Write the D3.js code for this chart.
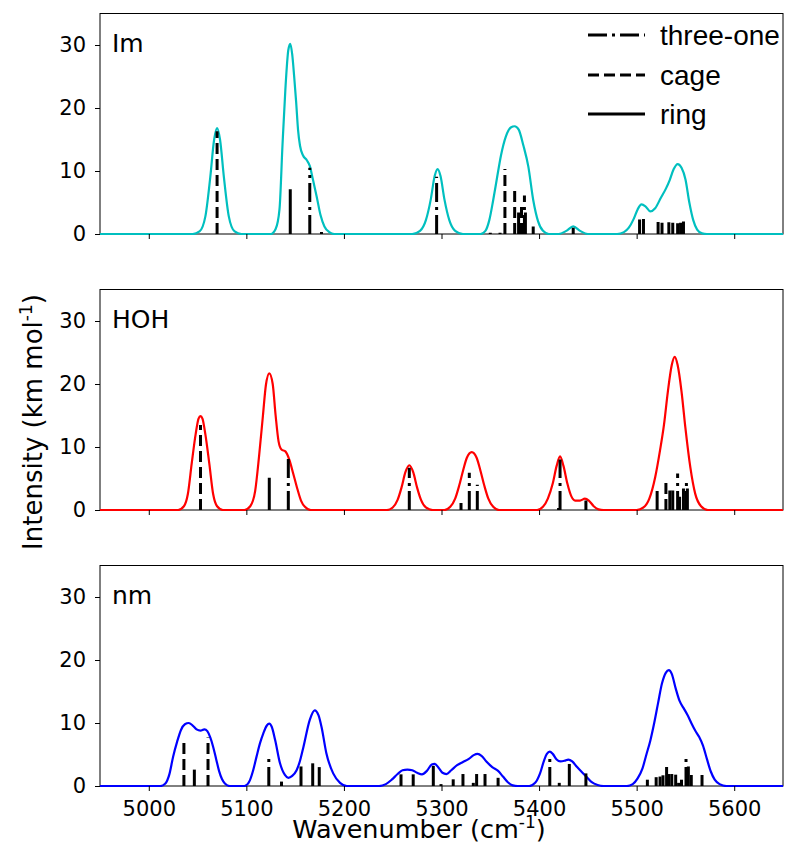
<!DOCTYPE html>
<html>
<head>
<meta charset="utf-8">
<script src="https://cdn.jsdelivr.net/npm/d3@7"></script>
<style>
  html, body { margin: 0; padding: 0; background: #fff; }
  text { font-family: "DejaVu Sans", sans-serif; fill: #000; }
  .legend text { font-family: "Liberation Sans", Arial, sans-serif; }
</style>
</head>
<body>
<div id="chart"></div>
<script>
// ---- data ----
const panelNames = ['Im', 'HOH', 'nm'];
const panelColors = ['#00bfbf', '#ff0000', '#0000ff'];
const xTicks = [5000, 5100, 5200, 5300, 5400, 5500, 5600];
const yTicks = [0, 10, 20, 30];
const legendLabels = ['three-one', 'cage', 'ring'];

// broadened spectra: [wavenumber, intensity]
const imCurve = [
  [4950, 0], [5045, 0], [5052, 0.4], [5058, 2.8], [5063, 9], [5067, 15], [5070, 16.8], [5073, 15],
  [5077, 9], [5082, 2.8], [5088, 0.4], [5095, 0],
  [5125, 0], [5130, 0.8], [5134, 4], [5137, 14], [5140, 23], [5143, 29.2], [5145, 30.2], [5147, 28.5],
  [5149, 25], [5151, 21], [5153, 16.5], [5155, 14], [5158, 12.5], [5162, 11.7], [5165, 10.8],
  [5168, 8.8], [5172, 6], [5176, 3], [5180, 1.2], [5185, 0.3], [5190, 0],
  [5270, 0], [5278, 0.5], [5284, 2.2], [5289, 5.5], [5293, 9.2], [5296, 10.3], [5299, 9.2],
  [5303, 5.5], [5308, 2.2], [5314, 0.5], [5322, 0],
  [5340, 0], [5345, 0.5], [5349, 2.2], [5353, 5.4], [5357, 9], [5361, 12.5], [5366, 15.5], [5371, 16.9],
  [5375, 17.1], [5379, 16.6], [5384, 14], [5389, 10.7], [5394, 5.4], [5399, 2], [5404, 0.5], [5410, 0],
  [5420, 0], [5428, 0.5], [5435, 1.2], [5442, 0.5], [5450, 0],
  [5480, 0], [5487, 0.3], [5492, 1], [5497, 2.4], [5501, 3.9], [5505, 4.7], [5509, 4.4], [5514, 3.6],
  [5519, 4.1], [5525, 5.8], [5530, 7.2], [5534, 8.6], [5538, 10.3], [5542, 11.1], [5546, 10.5],
  [5550, 8.7], [5554, 5], [5558, 2.2], [5562, 0.7], [5567, 0.1], [5572, 0], [5650, 0]
];
const hohCurve = [
  [4950, 0], [5030, 0], [5036, 0.6], [5040, 2.5], [5044, 7.4], [5048, 12], [5051, 14.5], [5053, 14.9],
  [5055, 14.5], [5058, 12], [5062, 7.4], [5066, 2.5], [5070, 0.6], [5076, 0],
  [5098, 0], [5104, 0.6], [5109, 3], [5113, 8.5], [5117, 15], [5120, 19.8], [5123.5, 21.7], [5127, 20],
  [5130, 15], [5133, 10.9], [5136, 9.6], [5140, 9.3], [5144, 8], [5148, 5.8], [5152, 3.5], [5156, 1.5],
  [5160, 0.5], [5166, 0],
  [5244, 0], [5250, 0.4], [5255, 1.6], [5259, 3.55], [5263, 6], [5267, 7.1], [5271, 6], [5275, 3.55],
  [5279, 1.6], [5284, 0.4], [5291, 0],
  [5303, 0], [5309, 0.5], [5314, 1.8], [5318, 3.8], [5322, 6.2], [5326, 8.3], [5331, 9.2], [5336, 8.3],
  [5340, 6.2], [5344, 3.8], [5348, 1.8], [5353, 0.5], [5359, 0],
  [5398, 0], [5404, 0.5], [5409, 1.8], [5414, 4.2], [5418, 7], [5421.5, 8.5], [5425, 7], [5429, 4.2],
  [5433, 2.2], [5437, 1.5], [5442, 1.5], [5447, 1.8], [5451, 1.5], [5456, 0.6], [5461, 0.1], [5466, 0],
  [5500, 0], [5507, 0.4], [5513, 1.8], [5519, 5.2], [5524, 9.5], [5528, 13.5], [5532, 18.8], [5536, 23],
  [5539, 24.3], [5542, 23], [5546, 18.8], [5550, 13], [5555, 6.8], [5560, 2.6], [5566, 0.6], [5573, 0],
  [5650, 0]
];
const nmCurve = [
  [4950, 0], [5012, 0], [5017, 0.4], [5021, 1.8], [5025, 4.7], [5029, 7], [5033, 8.9], [5037, 9.8],
  [5041, 10], [5045, 9.6], [5049, 9], [5053, 8.8], [5057, 9.0], [5060, 8.7], [5063, 7.7], [5066, 6.2],
  [5069, 4.3], [5072, 2.4], [5075, 1.1], [5078, 0.4], [5083, 0],
  [5098, 0], [5103, 0.7], [5107, 2.5], [5110.5, 4.7], [5114, 6.8], [5117.5, 8.4], [5121, 9.6],
  [5123.5, 9.9], [5126, 9.4], [5129.5, 7.3], [5134.5, 3.6], [5139.5, 1.75], [5143, 1.3], [5147, 1.6],
  [5151.5, 2.5], [5155, 4], [5158.5, 6.2], [5165, 10.5], [5170, 12.0], [5174, 11.2], [5177, 9.4],
  [5182, 5.2], [5189, 2.0], [5196, 0.5], [5203, 0],
  [5236, 0], [5243, 0.3], [5249, 1.0], [5255, 1.9], [5260, 2.5], [5265, 2.6], [5270, 2.5], [5275, 2.1],
  [5280, 1.85], [5285, 2.4], [5290, 3.4], [5293, 3.5], [5297, 2.9], [5301, 2.1], [5305, 1.9], [5310, 2.5],
  [5316, 3.3], [5322, 3.8], [5328, 4.3], [5333, 4.9], [5337, 5.1], [5341, 4.8], [5346, 3.9], [5352, 3.0],
  [5358, 2.4], [5363, 1.5], [5368, 0.6], [5373, 0.1], [5378, 0],
  [5390, 0], [5396, 0.5], [5401, 2], [5405, 4], [5408, 5.1], [5411, 5.45], [5414, 5.1], [5418, 4.2],
  [5422, 3.9], [5426, 4.0], [5430, 4.2], [5434, 3.9], [5439, 3.0], [5444, 2.2], [5449, 1.4], [5454, 0.6],
  [5460, 0.15], [5466, 0],
  [5490, 0], [5496, 0.3], [5501, 1.2], [5506, 2.8], [5510, 5], [5514, 7.2], [5518, 10], [5522, 13.2],
  [5526, 16.3], [5530, 18], [5533, 18.4], [5536, 17.8], [5540, 15.5], [5544, 13.5], [5548, 12.4],
  [5552, 11.3], [5556, 10.0], [5560, 8.8], [5564, 7.8], [5568, 6.4], [5572, 4.3], [5576, 2.3], [5580, 1],
  [5585, 0.3], [5592, 0], [5650, 0]
];

// stick spectra: [wavenumber, intensity, isomer]
const imSticks = [
  [5070, 16.3, 'cage'], [5145, 7.1, 'ring'], [5165, 10.5, 'three-one'], [5177, 0.3, 'ring'],
  [5295, 9.1, 'three-one'], [5350, 0.2, 'ring'], [5360, 0.2, 'ring'], [5365, 10.3, 'cage'],
  [5375, 7.3, 'cage'], [5379, 3.4, 'ring'], [5382, 4.4, 'cage'], [5385, 6.1, 'three-one'],
  [5386, 3.4, 'ring'], [5394, 1.2, 'ring'], [5435, 1.0, 'ring'],
  [5503, 2.3, 'ring'], [5507, 2.4, 'ring'], [5522, 1.9, 'ring'], [5526, 1.8, 'ring'],
  [5533, 1.85, 'ring'], [5537, 1.8, 'ring'], [5542, 1.7, 'ring'], [5545, 1.8, 'ring'], [5548, 2.0, 'ring']
];
const hohSticks = [
  [5053, 13.5, 'cage'], [5123.5, 5.1, 'ring'], [5143, 8.5, 'three-one'],
  [5267, 6.7, 'three-one'], [5320, 1.1, 'ring'], [5328.5, 5.9, 'three-one'], [5336.7, 4.0, 'three-one'],
  [5420, 0.3, 'ring'], [5421.5, 8.0, 'three-one'], [5448, 1.5, 'ring'],
  [5521, 3.2, 'three-one'], [5530, 4.7, 'cage'], [5534, 3.1, 'ring'], [5537, 3.1, 'ring'],
  [5542, 5.8, 'three-one'], [5544, 2.1, 'ring'], [5548, 3.4, 'ring'], [5551, 4.5, 'three-one'],
  [5552, 3.4, 'ring']
];
const nmSticks = [
  [5036, 7.0, 'cage'], [5046.7, 2.6, 'ring'], [5060.7, 7.7, 'cage'], [5123, 4.8, 'three-one'],
  [5136, 0.7, 'ring'], [5156, 3.1, 'ring'], [5168, 3.6, 'ring'], [5174.7, 3.0, 'ring'],
  [5258.5, 1.85, 'ring'], [5271, 1.85, 'ring'], [5291.6, 3.2, 'ring'], [5299.5, 0.3, 'ring'],
  [5312, 1.06, 'ring'], [5322, 1.9, 'ring'], [5332.6, 0.5, 'ring'], [5336, 1.9, 'ring'],
  [5344.6, 1.9, 'ring'], [5358, 1.3, 'ring'], [5411, 4.8, 'three-one'], [5420.7, 0.5, 'ring'],
  [5431, 3.5, 'ring'], [5448, 2.0, 'ring'],
  [5511, 1.0, 'ring'], [5520, 1.4, 'ring'], [5524, 1.5, 'ring'], [5527, 1.7, 'ring'],
  [5530.7, 3.3, 'three-one'], [5533, 1.9, 'ring'], [5536, 1.9, 'ring'], [5540, 1.8, 'ring'],
  [5543, 0.5, 'ring'], [5546, 1.0, 'ring'], [5550.6, 4.4, 'three-one'], [5553, 3.1, 'ring'],
  [5556, 1.75, 'ring'], [5567, 1.75, 'ring']
];

const curves = [imCurve, hohCurve, nmCurve];
const sticks = [imSticks, hohSticks, nmSticks];

// ---- layout ----
const WIDTH = 786, HEIGHT = 847;
const margin = { LEFT: 100, RIGHT: 3 };
const panelTops = [13.5, 289.5, 565.5];
const panelH = 220.5;

const dashes = { 'three-one': '19,5,3,5', 'cage': '11,5', 'ring': null };

const svg = d3.select('#chart').append('svg')
  .attr('width', WIDTH)
  .attr('height', HEIGHT);

const x = d3.scaleLinear().domain([4950, 5650]).range([margin.LEFT, WIDTH - margin.RIGHT]);

panelNames.forEach((name, i) => {
  const top = panelTops[i];
  const y = d3.scaleLinear().domain([0, 35]).range([top + panelH, top]);
  const g = svg.append('g').attr('class', 'panel-' + i);

  // frame first, the spectrum baseline sits on top of it
  g.append('rect')
    .attr('x', x.range()[0]).attr('y', top)
    .attr('width', x.range()[1] - x.range()[0]).attr('height', panelH)
    .attr('fill', 'none').attr('stroke', '#000').attr('stroke-width', 1);

  const clipId = 'clip' + i;
  g.append('clipPath').attr('id', clipId)
    .append('rect')
    .attr('x', x.range()[0]).attr('y', top)
    .attr('width', x.range()[1] - x.range()[0]).attr('height', panelH + 1);

  const plot = g.append('g').attr('clip-path', `url(#${clipId})`);

  // spectrum
  const line = d3.line()
    .x(d => x(d[0]))
    .y(d => y(d[1]))
    .curve(d3.curveMonotoneX);

  plot.append('path')
    .attr('d', line(curves[i]))
    .attr('fill', 'none')
    .attr('stroke', panelColors[i])
    .attr('stroke-width', 2.2)
    .attr('stroke-linejoin', 'round');

  // sticks (dash pattern starts at the baseline)
  plot.selectAll('line.stick')
    .data(sticks[i])
    .join('line')
    .attr('class', 'stick')
    .attr('x1', d => x(d[0])).attr('x2', d => x(d[0]))
    .attr('y1', y(0)).attr('y2', d => y(d[1]))
    .attr('stroke', '#000')
    .attr('stroke-width', 3)
    .attr('stroke-dasharray', d => dashes[d[2]]);

  // axes
  const xAxis = d3.axisBottom(x).tickValues(xTicks).tickSize(5).tickPadding(10.5)
    .tickFormat(i < 2 ? '' : d3.format('d'));
  const xg = g.append('g')
    .attr('transform', `translate(0, ${top + panelH})`)
    .call(xAxis);

  const yg = g.append('g')
    .attr('transform', `translate(${margin.LEFT}, 0)`)
    .call(d3.axisLeft(y).tickValues(yTicks).tickSize(5).tickPadding(9).tickFormat(d3.format('d')));

  [xg, yg].forEach(a => {
    a.select('.domain').remove();
    a.selectAll('.tick line').attr('stroke', '#000').attr('stroke-width', 1);
    a.selectAll('.tick text')
      .attr('font-size', 21)
      .attr('font-family', '"DejaVu Sans", sans-serif')
      .attr('fill', '#000');
  });

  // panel label
  g.append('text')
    .attr('x', 112).attr('y', top + 38)
    .attr('font-size', 25)
    .text(name);
});

// legend in the first panel
const legend = svg.append('g').attr('class', 'legend');
const legendRows = [35, 75, 114];
legendLabels.forEach((lab, k) => {
  legend.append('line')
    .attr('x1', 588).attr('x2', 645)
    .attr('y1', legendRows[k]).attr('y2', legendRows[k])
    .attr('stroke', '#000').attr('stroke-width', 3)
    .attr('stroke-dasharray', dashes[lab]);
  legend.append('text')
    .attr('x', 660).attr('y', legendRows[k])
    .attr('dy', '0.35em')
    .attr('font-size', 28)
    .text(lab);
});

// axis titles
const xTitle = svg.append('text')
  .attr('x', 419)
  .attr('y', 838)
  .attr('text-anchor', 'middle')
  .attr('font-size', 25.5);
xTitle.append('tspan').text('Wavenumber (cm');
xTitle.append('tspan').attr('dy', -10).attr('font-size', 17).text('-1');
xTitle.append('tspan').attr('dy', 10).text(')');

const yTitle = svg.append('text')
  .attr('transform', 'translate(42, 422) rotate(-90)')
  .attr('text-anchor', 'middle')
  .attr('font-size', 26);
yTitle.append('tspan').text('Intensity (km mol');
yTitle.append('tspan').attr('dy', -10).attr('font-size', 17).text('-1');
yTitle.append('tspan').attr('dy', 10).text(')');
</script>
</body>
</html>
